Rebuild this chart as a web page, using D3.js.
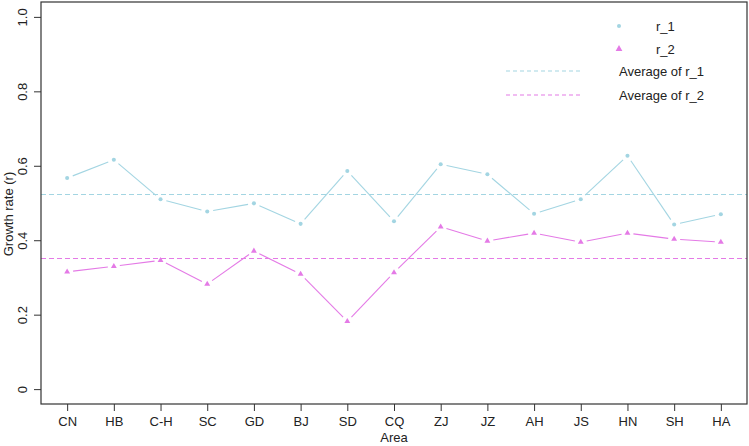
<!DOCTYPE html>
<html>
<head>
<meta charset="utf-8">
<script src="https://cdn.jsdelivr.net/npm/d3@7"></script>
<style>
body { margin: 0; background: #fff; }
text { font-family: "Liberation Sans", Arial, sans-serif; fill: #222; }
</style>
</head>
<body>
<div id="chart"></div>
<script>
w = 749;
h = 446;

// data
areas = ['CN','HB','C-H','SC','GD','BJ','SD','CQ','ZJ','JZ','AH','JS','HN','SH','HA'];
r1 = [0.567,0.616,0.510,0.477,0.499,0.444,0.586,0.451,0.604,0.577,0.471,0.510,0.627,0.442,0.470];
r2 = [0.315,0.330,0.346,0.282,0.371,0.309,0.182,0.313,0.436,0.398,0.419,0.395,0.419,0.403,0.395];
avgR1 = 0.523;
avgR2 = 0.353;
yTicks = [0, 0.2, 0.4, 0.6, 0.8, 1.0];
yTickLabels = ['0','0.2','0.4','0.6','0.8','1.0'];

c1 = '#a3d5e2';
c2 = '#e47ae6';

var plotL = 41, plotR = 747, plotT = 2, plotB = 404;

// R style 4% padding around the data range
xScale = d3.scaleLinear().domain([0.44, 15.56]).range([plotL, plotR]);
yScale = d3.scaleLinear().domain([-0.04, 1.04]).range([plotB, plotT]);

var svg = d3.select('#chart').append('svg')
	.attr('width', w)
	.attr('height', h);

// dashed averages
function avgLine(v, col) {
	var yy = Math.round(yScale(v)) + 0.5;
	svg.append('line')
		.attr('x1', plotL).attr('x2', plotR)
		.attr('y1', yy).attr('y2', yy)
		.style('stroke', col)
		.style('stroke-width', 1.2)
		.style('stroke-dasharray', '5,3');
}
avgLine(avgR1, c1);
avgLine(avgR2, c2);

// type="b" lines: segments with a gap around each point
function series(vals, col, shape) {
	var gap = 6;
	for (var i = 0; i < vals.length - 1; i++) {
		var x1 = xScale(i + 1), y1 = yScale(vals[i]);
		var x2 = xScale(i + 2), y2 = yScale(vals[i + 1]);
		var dx = x2 - x1, dy = y2 - y1, len = Math.sqrt(dx*dx + dy*dy);
		svg.append('line')
			.attr('x1', x1 + dx/len*gap).attr('y1', y1 + dy/len*gap)
			.attr('x2', x2 - dx/len*gap).attr('y2', y2 - dy/len*gap)
			.style('stroke', col)
			.style('stroke-width', 1.1);
	}
	svg.selectAll(null).data(vals).enter()
		.append('path')
		.attr('d', d3.symbol().type(shape).size(shape === d3.symbolCircle ? 13 : 15))
		.attr('transform', function(d, i) { return 'translate(' + xScale(i + 1) + ',' + yScale(d) + ')'; })
		.style('fill', col);
}
series(r1, c1, d3.symbolCircle);
series(r2, c2, d3.symbolTriangle);

// box
svg.append('rect')
	.attr('x', plotL).attr('y', plotT)
	.attr('width', plotR - plotL).attr('height', plotB - plotT)
	.style('fill', 'none')
	.style('stroke', '#333')
	.style('stroke-width', 1.2);

// x axis
xAxis = d3.axisBottom(xScale)
	.tickValues(d3.range(1, areas.length + 1))
	.tickFormat(function(d) { return areas[d - 1]; })
	.tickSizeOuter(0)
	.tickSize(7)
	.tickPadding(6);
xAxisG = svg.append('g')
	.attr('transform', 'translate(0,' + plotB + ')')
	.call(xAxis);
xAxisG.select('.domain').remove();
xAxisG.selectAll('line').style('stroke', '#333');
xAxisG.selectAll('text')
	.style('font-size', '13px')
	.style('font-family', '"Liberation Sans", Arial, sans-serif')
	.style('fill', '#222');

// y axis
yAxis = d3.axisLeft(yScale)
	.tickValues(yTicks)
	.tickFormat(function(d, i) { return yTickLabels[i]; })
	.tickSizeOuter(0)
	.tickSize(7);
yAxisG = svg.append('g')
	.attr('transform', 'translate(' + plotL + ',0)')
	.call(yAxis);
yAxisG.select('.domain').remove();
yAxisG.selectAll('line').style('stroke', '#333');
yAxisG.selectAll('text')
	.attr('x', null).attr('dy', null)
	.attr('transform', 'translate(-14,0) rotate(-90)')
	.attr('text-anchor', 'middle')
	.style('font-size', '13px')
	.style('font-family', '"Liberation Sans", Arial, sans-serif')
	.style('fill', '#222');

// axis labels
svg.append('text')
	.attr('x', (plotL + plotR) / 2)
	.attr('y', 442)
	.attr('text-anchor', 'middle')
	.style('font-size', '13px')
	.text('Area');
svg.append('text')
	.attr('transform', 'translate(13,' + 214 + ') rotate(-90)')
	.attr('text-anchor', 'middle')
	.style('font-size', '13px')
	.text('Growth rate (r)');

// legend
var lg = svg.append('g');
lg.append('path')
	.attr('d', d3.symbol().type(d3.symbolCircle).size(13))
	.attr('transform', 'translate(619,26)')
	.style('fill', c1);
lg.append('path')
	.attr('d', d3.symbol().type(d3.symbolTriangle).size(20))
	.attr('transform', 'translate(619,49)')
	.style('fill', c2);
lg.append('text').attr('x', 656).attr('y', 31).style('font-size', '13px').text('r_1');
lg.append('text').attr('x', 656).attr('y', 54).style('font-size', '13px').text('r_2');
[[avgR1, c1, 71, 'Average of r_1'], [avgR2, c2, 95, 'Average of r_2']].forEach(function(d) {
	lg.append('line')
		.attr('x1', 506).attr('x2', 582)
		.attr('y1', d[2]).attr('y2', d[2])
		.style('stroke', d[1])
		.style('stroke-width', 1.2)
		.style('stroke-dasharray', '4,3');
	lg.append('text').attr('x', 619).attr('y', d[2] + 5).style('font-size', '13px').text(d[3]);
});
</script>
</body>
</html>
